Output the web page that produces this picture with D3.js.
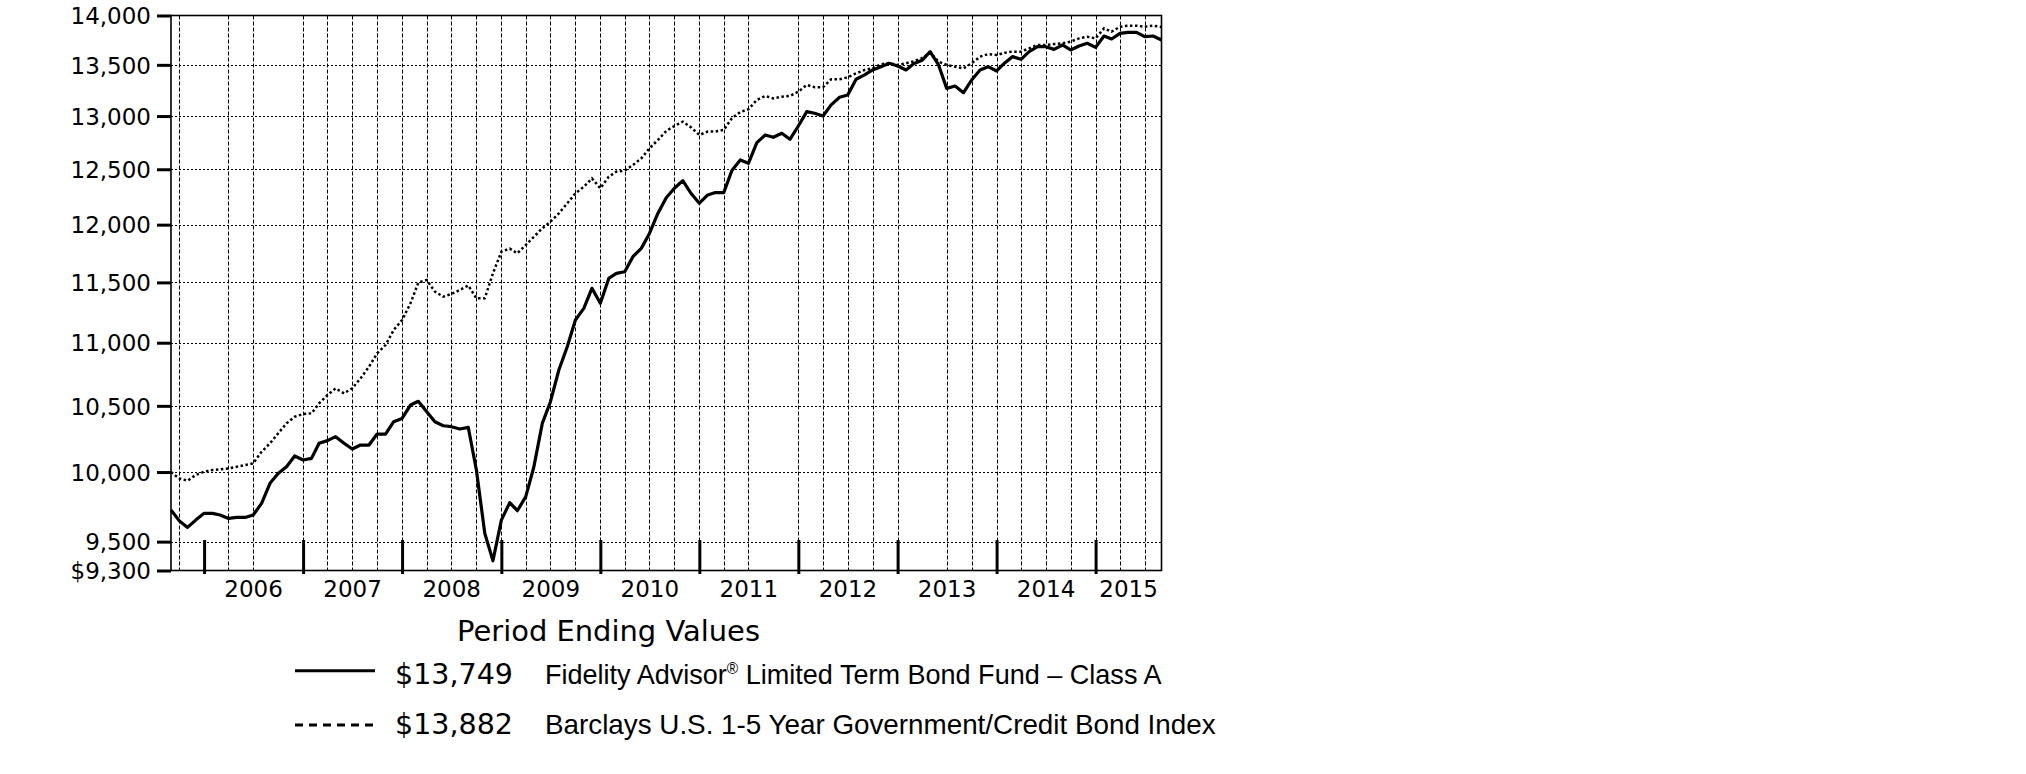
<!DOCTYPE html>
<html><head><meta charset="utf-8">
<script src="https://cdn.jsdelivr.net/npm/d3@7/dist/d3.min.js"></script>
<style>body{margin:0;background:#fff}svg{display:block}</style>
</head><body><svg id="c" width="2026" height="774"></svg>
<script>
// ---------------- data ----------------
const startMonth = "2005-08";   // first period end (Aug 31, 2005), monthly thereafter
const fundValues = [
 9725, 9648, 9600, 9652, 9700, 9700, 9688, 9664, 9671, 9671,
 9688, 9772, 9917, 9990,10039,10119,10089,10101,10214,10234,
10264,10214,10171,10201,10201,10284,10284,10378,10403,10506,
10535,10455,10378,10347,10340,10322,10335,10015, 9558, 9367,
 9652, 9777, 9719, 9820,10039,10365,10532,10781,10968,11186,
11282,11450,11324,11534,11577,11591,11720,11792,11923,12100,
12240,12326,12396,12281,12191,12266,12287,12287,12488,12586,
12555,12748,12820,12798,12836,12779,12905,13043,13027,13000,
13107,13181,13204,13357,13400,13449,13482,13516,13489,13449,
13510,13545,13632,13499,13268,13291,13226,13350,13449,13482,
13439,13522,13582,13555,13632,13682,13682,13655,13699,13649,
13689,13716,13675,13790,13760,13817,13827,13827,13783,13790,
13749];
const indexValues = [
10000, 9953, 9936, 9978,10002,10015,10020,10027,10039,10052,
10064,10151,10214,10289,10365,10416,10437,10442,10519,10584,
10636,10597,10636,10715,10807,10914,10981,11103,11186,11324,
11499,11520,11422,11380,11402,11436,11474,11366,11366,11577,
11763,11790,11749,11821,11894,11967,12026,12100,12190,12280,
12340,12416,12326,12432,12478,12488,12539,12601,12694,12772,
12858,12905,12947,12893,12820,12852,12852,12868,12979,13039,
13065,13155,13194,13170,13186,13194,13236,13301,13280,13280,
13357,13357,13377,13416,13449,13466,13506,13516,13499,13516,
13535,13567,13622,13532,13499,13482,13465,13515,13582,13608,
13598,13622,13632,13632,13665,13699,13699,13709,13716,13733,
13766,13783,13766,13868,13834,13885,13895,13895,13885,13895,
13882];
const yTickValues = [9300, 9500, 10000, 10500, 11000, 11500, 12000, 12500, 13000, 13500, 14000];
const yearTickMonths = ["2005-12","2006-12","2007-12","2008-12","2009-12","2010-12","2011-12","2012-12","2013-12","2014-12"];
const yearLabels = ["2006","2007","2008","2009","2010","2011","2012","2013","2014","2015"];
const gridMonths = ["2005-09","2006-03","2006-06","2006-12","2007-03","2007-06","2007-09","2007-12",
 "2008-03","2008-06","2008-09","2008-12","2009-03","2009-06","2009-09","2009-12","2010-03","2010-06",
 "2010-09","2010-12","2011-03","2011-06","2011-12","2012-03","2012-06","2012-09","2012-12","2013-06",
 "2013-09","2013-12","2014-03","2014-06","2014-09","2014-12","2015-03","2015-06"];
const fundNameParts = ["Fidelity Advisor", "®", " Limited Term Bond Fund – Class A"];
const indexName = "Barclays U.S. 1-5 Year Government/Credit Bond Index";
const endingValues = ["$13,749", "$13,882"];
const legendTitle = "Period Ending Values";

// ---------------- helpers ----------------
const parseYM = d3.utcParse("%Y-%m");
const monthEnd = s => d3.utcMonth.offset(parseYM(s), 1);   // end of month == start of next
const start = monthEnd(startMonth);
const dates = fundValues.map((_, i) => d3.utcMonth.offset(start, i));
const fund = fundValues.map((v, i) => ({date: dates[i], v}));
const index = indexValues.map((v, i) => ({date: dates[i], v}));

const L = 171, R = 1161.5, T = 15.5, B = 570.5;
const x = d3.scaleUtc().domain([dates[0], dates[dates.length - 1]]).range([L, R]);
const y = d3.scaleLog().domain([9300, 14000]).range([B, T]);

const svg = d3.select("#c");
svg.append("rect").attr("width", 2026).attr("height", 774).attr("fill", "#fff");

// grid
const g = svg.append("g");
g.selectAll(".hg").data(yTickValues.filter(v => v > 9300 && v < 14000)).join("line")
  .attr("x1", L).attr("x2", R)
  .attr("y1", d => Math.round(y(d)) + 0.5).attr("y2", d => Math.round(y(d)) + 0.5)
  .attr("stroke", "#000").attr("stroke-width", 1).attr("stroke-dasharray", "2,2");
g.selectAll(".vg").data(gridMonths.map(monthEnd)).join("line")
  .attr("x1", d => Math.round(x(d)) + 0.5).attr("x2", d => Math.round(x(d)) + 0.5)
  .attr("y1", T).attr("y2", B)
  .attr("stroke", "#000").attr("stroke-width", 1).attr("stroke-dasharray", "4,2");

// y axis
const yAxis = svg.append("g").attr("transform", `translate(${L},0)`)
  .call(d3.axisLeft(y).tickValues(yTickValues).tickSize(14).tickPadding(6)
    .tickFormat(d => d === 9300 ? "$9,300" : d3.format(",")(d)));
yAxis.select(".domain").remove();
yAxis.selectAll(".tick line").attr("stroke", "#000").attr("stroke-width", 3);
yAxis.selectAll(".tick text").attr("fill", "#000")
  .attr("font-family", "DejaVu Sans").attr("font-size", 23).attr("dy", "0.36em");

// x axis year ticks
const xAxis = svg.append("g").attr("transform", `translate(0,574)`)
  .call(d3.axisBottom(x).tickValues(yearTickMonths.map(monthEnd)).tickSize(-34).tickFormat(""));
xAxis.select(".domain").remove();
xAxis.selectAll(".tick line").attr("stroke", "#000").attr("stroke-width", 3);

// year labels centred in each year's span
svg.append("g").selectAll("text").data(yearLabels).join("text")
  .attr("x", d => {
    const a = d3.max([parseYM(d + "-01"), dates[0]]);
    const b = d3.min([parseYM((+d + 1) + "-01"), dates[dates.length - 1]]);
    return (x(a) + x(b)) / 2;
  })
  .attr("y", 597).attr("text-anchor", "middle")
  .attr("font-family", "DejaVu Sans").attr("font-size", 23).attr("fill", "#000")
  .text(d => d);

// frame
svg.append("rect").attr("x", L).attr("y", T).attr("width", R - L).attr("height", B - T)
  .attr("fill", "none").attr("stroke", "#000").attr("stroke-width", 1.6);

// lines
const line = d3.line().x(d => x(d.date)).y(d => y(d.v));
svg.append("path").datum(index).attr("d", line).attr("fill", "none")
  .attr("stroke", "#000").attr("stroke-width", 2.5).attr("stroke-dasharray", "2.5,2.5");
svg.append("path").datum(fund).attr("d", line).attr("fill", "none")
  .attr("stroke", "#000").attr("stroke-width", 3.2).attr("stroke-linejoin", "round");

// legend
svg.append("text").attr("x", 457).attr("y", 640.5)
  .attr("font-family", "DejaVu Sans").attr("font-size", 29)
  .attr("textLength", 303).attr("lengthAdjust", "spacingAndGlyphs").text(legendTitle);

svg.append("line").attr("x1", 295).attr("x2", 375).attr("y1", 670.7).attr("y2", 670.7)
  .attr("stroke", "#000").attr("stroke-width", 3);
svg.append("line").attr("x1", 295).attr("x2", 375).attr("y1", 725).attr("y2", 725)
  .attr("stroke", "#000").attr("stroke-width", 3).attr("stroke-dasharray", "8,6");

svg.selectAll(".ev").data(endingValues).join("text")
  .attr("x", 395).attr("y", (d, i) => i ? 733.5 : 684)
  .attr("font-family", "DejaVu Sans").attr("font-size", 28.5)
  .attr("textLength", 118).attr("lengthAdjust", "spacingAndGlyphs").text(d => d);

// fund name: natural layout, then squeezed horizontally by a transform
const n1 = svg.append("text").attr("font-family", "Liberation Sans").attr("font-size", 28);
n1.append("tspan").text(fundNameParts[0]);
n1.append("tspan").attr("font-size", 16).attr("dy", -10).text(fundNameParts[1]);
n1.append("tspan").attr("dy", 10).text(fundNameParts[2]);
const w1 = n1.node().getBBox().width;
n1.attr("transform", `translate(545,683.5) scale(${617 / w1},1)`);

const n2 = svg.append("text").attr("font-family", "Liberation Sans").attr("font-size", 28).text(indexName);
const w2 = n2.node().getBBox().width;
n2.attr("transform", `translate(545,733.5) scale(${671 / w2},1)`);
</script></body></html>
